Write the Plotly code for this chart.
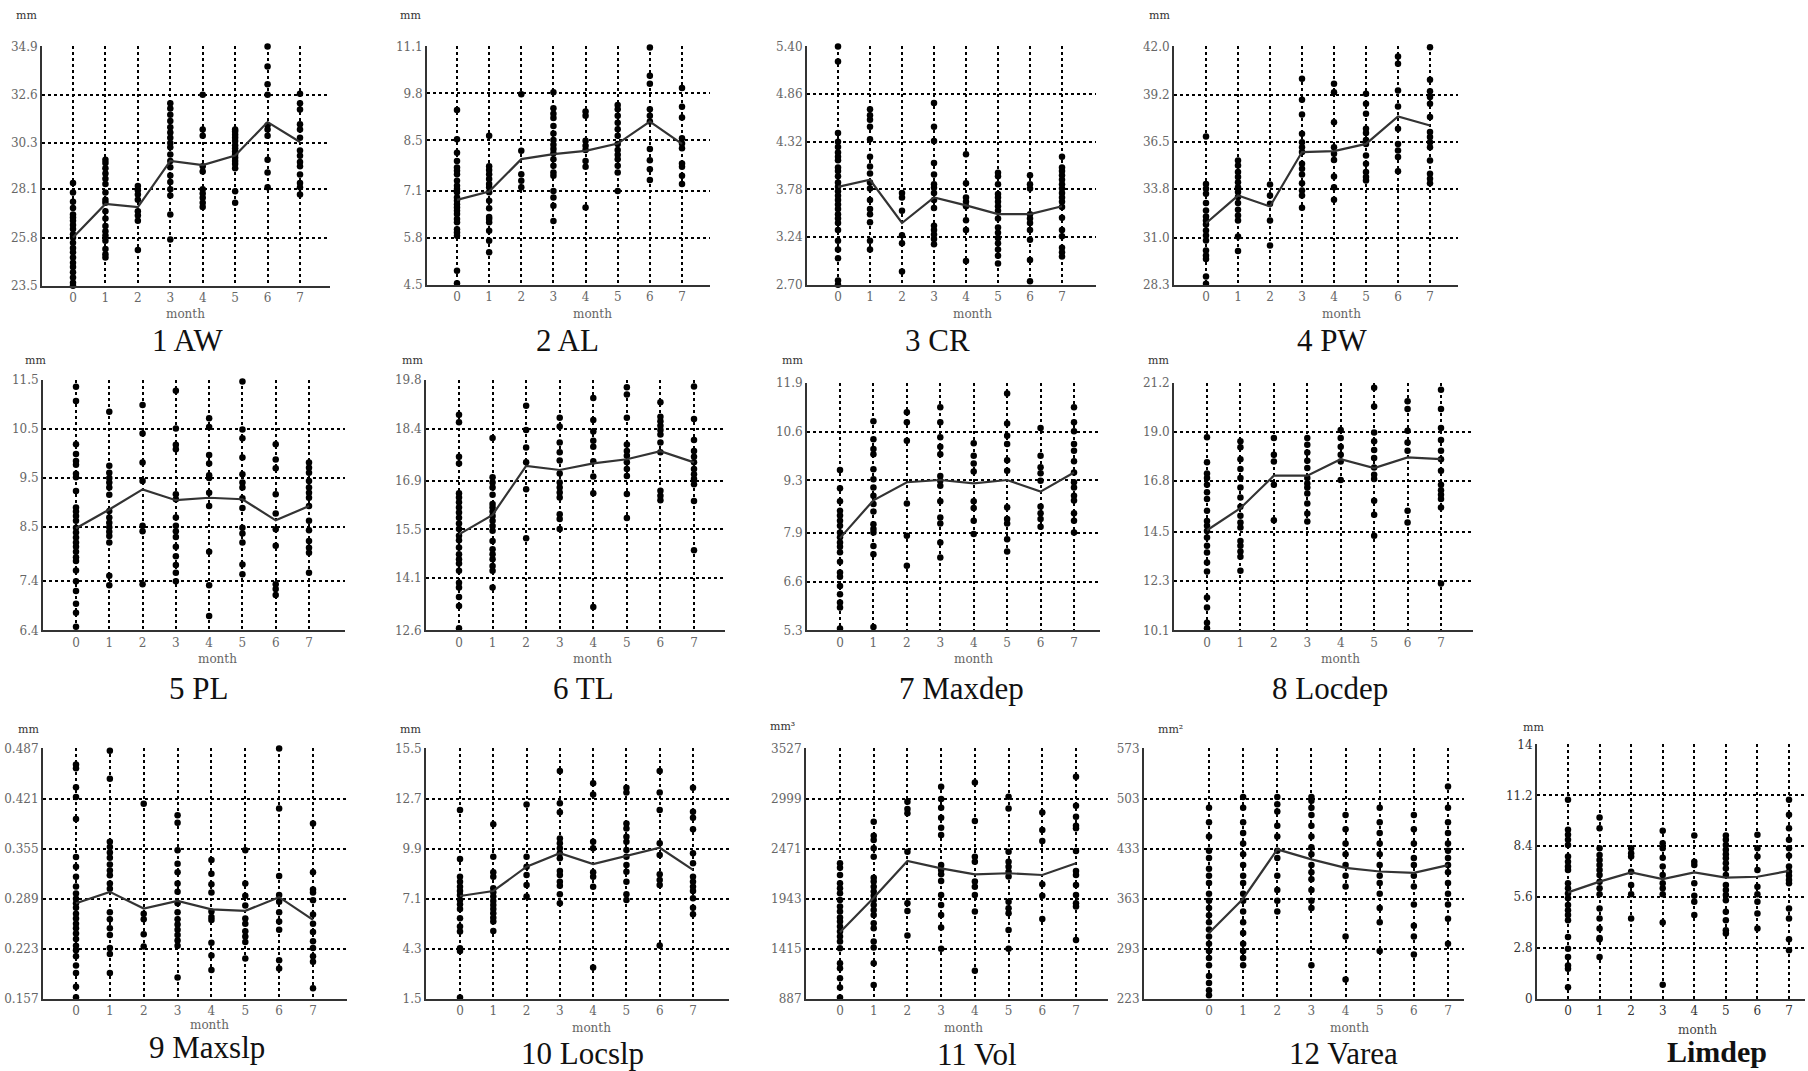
import plotly.graph_objects as go

W, H = 1808, 1071
months = [0, 1, 2, 3, 4, 5, 6, 7]

# ---------------- data ----------------
AW_pts = [
    [28.4, 27.95, 27.5, 27.2, 26.9, 26.75, 26.6, 26.4, 26.2, 25.95, 25.8, 25.55, 25.3, 25.1, 24.85, 24.6, 24.4, 24.15, 23.9, 23.65, 23.5],
    [29.5, 29.35, 29.1, 28.85, 28.6, 28.35, 27.95, 27.6, 27.45, 27.05, 26.7, 26.35, 26.1, 25.9, 25.65, 25.25, 25.0, 24.85],
    [28.25, 28.05, 27.85, 27.6, 27.05, 26.85, 26.6, 25.2],
    [32.2, 31.95, 31.65, 31.35, 31.05, 30.8, 30.55, 30.3, 30.1, 29.75, 29.45, 29.15, 28.75, 28.45, 28.1, 27.8, 26.9, 25.7],
    [32.6, 30.95, 30.65, 29.2, 28.95, 28.1, 27.9, 27.7, 27.45, 27.25],
    [30.95, 30.85, 30.7, 30.55, 30.4, 30.2, 30.05, 29.9, 29.75, 29.6, 29.45, 29.3, 29.1, 28.0, 27.45],
    [34.9, 33.95, 33.1, 32.6, 31.15, 30.95, 30.65, 29.5, 28.9, 28.2],
    [32.65, 32.2, 31.9, 31.2, 30.95, 30.55, 29.95, 29.7, 29.4, 29.2, 28.8, 28.4, 28.2, 27.85],
]
AW_mean = [25.8, 27.4, 27.25, 29.45, 29.25, 29.7, 31.3, 30.35]
AW_ticks = ["23.5", "25.8", "28.1", "30.3", "32.6", "34.9"]

AL_pts = [
    [9.34, 8.53, 8.16, 7.93, 7.75, 7.66, 7.56, 7.38, 7.24, 7.15, 7.06, 6.92, 6.83, 6.73, 6.64, 6.55, 6.46, 6.32, 6.23, 6.04, 5.95, 5.86, 4.89, 4.54],
    [8.63, 7.78, 7.68, 7.56, 7.43, 7.29, 7.2, 7.06, 6.83, 6.62, 6.38, 6.32, 6.23, 6.0, 5.72, 5.4],
    [9.78, 8.21, 7.56, 7.38, 7.2],
    [9.83, 9.39, 9.24, 9.12, 8.9, 8.69, 8.51, 8.38, 8.26, 8.14, 7.98, 7.8, 7.61, 7.52, 7.1, 6.92, 6.69, 6.27],
    [9.3, 9.18, 8.49, 8.35, 8.23, 7.93, 7.77, 6.64],
    [9.48, 9.36, 9.18, 8.99, 8.81, 8.63, 8.4, 8.23, 8.1, 7.98, 7.8, 7.61, 7.1],
    [11.07, 10.29, 10.07, 9.36, 9.18, 9.02, 8.26, 7.95, 7.7, 7.4],
    [9.95, 9.43, 9.13, 8.56, 8.41, 8.28, 7.86, 7.77, 7.52, 7.29],
]
AL_mean = [6.85, 7.08, 7.98, 8.12, 8.21, 8.41, 9.02, 8.4]
AL_ticks = ["4.5", "5.8", "7.1", "8.5", "9.8", "11.1"]

CR_pts = [
    [5.40, 5.23, 4.42, 4.32, 4.26, 4.2, 4.15, 4.11, 4.03, 3.99, 3.93, 3.86, 3.81, 3.76, 3.71, 3.66, 3.61, 3.56, 3.5, 3.45, 3.4, 3.32, 3.2, 3.1, 3.0, 2.75, 2.7],
    [4.69, 4.62, 4.57, 4.49, 4.35, 4.15, 4.04, 3.96, 3.86, 3.79, 3.66, 3.56, 3.5, 3.41, 3.2, 3.1],
    [3.74, 3.69, 3.54, 3.26, 3.17, 2.85],
    [4.76, 4.49, 4.33, 4.08, 3.95, 3.84, 3.80, 3.74, 3.66, 3.57, 3.37, 3.32, 3.27, 3.22, 3.16],
    [4.18, 3.85, 3.69, 3.64, 3.59, 3.43, 3.32, 2.97],
    [3.97, 3.93, 3.84, 3.73, 3.69, 3.64, 3.59, 3.54, 3.45, 3.35, 3.29, 3.23, 3.17, 3.1, 3.03, 2.94],
    [3.94, 3.84, 3.79, 3.5, 3.45, 3.4, 3.32, 3.21, 2.98, 2.74],
    [4.15, 4.03, 3.99, 3.94, 3.89, 3.84, 3.79, 3.74, 3.69, 3.64, 3.58, 3.46, 3.32, 3.25, 3.12, 3.07, 3.02],
]
CR_mean = [3.81, 3.89, 3.4, 3.69, 3.6, 3.5, 3.5, 3.59]
CR_ticks = ["2.70", "3.24", "3.78", "4.32", "4.86", "5.40"]

PW_pts = [
    [36.83, 34.1, 33.82, 33.53, 33.0, 32.57, 32.23, 32.0, 31.77, 31.42, 31.14, 30.85, 30.27, 29.99, 29.79, 28.78, 28.36],
    [35.45, 35.16, 34.78, 34.49, 34.2, 33.91, 33.63, 33.34, 33.0, 32.61, 32.28, 31.99, 31.08, 30.24],
    [34.07, 33.43, 32.96, 31.99, 30.56],
    [40.14, 38.93, 38.09, 36.98, 36.5, 36.21, 35.93, 35.26, 34.97, 34.64, 34.14, 33.72, 33.43, 32.73],
    [39.85, 39.37, 37.65, 36.21, 35.83, 35.48, 34.53, 33.91, 33.19],
    [39.28, 38.7, 38.13, 37.27, 37.02, 36.63, 36.4, 35.73, 35.26, 34.78, 34.49, 34.3],
    [41.42, 41.0, 39.47, 38.55, 37.27, 36.4, 36.02, 35.64, 34.83],
    [41.96, 40.08, 39.43, 39.09, 38.7, 37.94, 37.08, 36.79, 36.5, 36.21, 35.45, 34.68, 34.39, 34.14],
]
PW_mean = [31.84, 33.43, 32.8, 35.93, 35.98, 36.4, 37.98, 37.46]
PW_ticks = ["28.3", "31.0", "33.8", "36.5", "39.2", "42.0"]

PL_pts = [
    [11.36, 11.07, 10.19, 9.99, 9.85, 9.77, 9.59, 9.52, 9.24, 8.9, 8.82, 8.73, 8.63, 8.49, 8.39, 8.29, 8.19, 8.1, 8.0, 7.89, 7.81, 7.62, 7.4, 7.2, 6.94, 6.76, 6.47],
    [10.85, 9.75, 9.61, 9.5, 9.41, 9.31, 9.16, 8.83, 8.7, 8.59, 8.5, 8.41, 8.32, 8.19, 7.51, 7.32],
    [10.99, 10.41, 9.82, 9.44, 8.53, 8.42, 7.34],
    [11.28, 10.51, 10.18, 10.09, 9.17, 9.07, 8.7, 8.53, 8.42, 8.3, 8.1, 7.91, 7.73, 7.57, 7.4],
    [10.72, 10.54, 9.97, 9.8, 9.56, 9.5, 9.2, 8.93, 8.0, 7.32, 6.69],
    [11.47, 10.49, 10.31, 9.92, 9.58, 9.41, 9.31, 9.09, 8.89, 8.49, 8.37, 8.19, 7.74, 7.54],
    [10.19, 9.88, 9.7, 9.17, 8.78, 8.46, 8.12, 7.34, 7.24, 7.12],
    [9.82, 9.71, 9.61, 9.44, 9.31, 9.2, 9.1, 8.93, 8.63, 8.44, 8.22, 8.08, 7.98, 7.57],
]
PL_mean = [8.48, 8.86, 9.27, 9.05, 9.1, 9.07, 8.64, 8.93]
PL_ticks = ["6.4", "7.4", "8.5", "9.5", "10.5", "11.5"]

TL_pts = [
    [18.8, 18.58, 17.59, 17.4, 16.54, 16.42, 16.28, 16.13, 15.99, 15.84, 15.67, 15.51, 15.32, 15.19, 14.98, 14.79, 14.64, 14.52, 14.31, 13.97, 13.83, 13.56, 13.3, 12.66],
    [18.13, 17.0, 16.85, 16.71, 16.5, 16.23, 16.13, 16.02, 15.89, 15.75, 15.6, 15.46, 15.17, 14.93, 14.79, 14.64, 14.45, 14.31, 13.83],
    [19.06, 18.36, 17.86, 17.43, 16.66, 15.25],
    [19.88, 18.71, 18.46, 18.0, 17.72, 17.48, 17.11, 16.85, 16.71, 16.56, 16.42, 15.94, 15.8, 15.51],
    [19.28, 18.65, 18.32, 18.05, 17.88, 17.46, 17.02, 16.54, 13.27],
    [19.59, 19.38, 18.71, 17.94, 17.76, 17.62, 17.43, 17.24, 17.04, 16.52, 15.83],
    [19.16, 18.74, 18.61, 18.48, 18.36, 18.23, 18.0, 17.72, 16.61, 16.47, 16.34],
    [19.61, 18.68, 18.07, 17.76, 17.59, 17.43, 17.24, 17.09, 16.95, 16.8, 16.32, 14.9],
]
TL_mean = [15.36, 15.92, 17.33, 17.21, 17.4, 17.52, 17.75, 17.43]
TL_ticks = ["12.6", "14.1", "15.5", "16.9", "18.4", "19.8"]

MAXDEP_pts = [
    [9.58, 9.09, 8.74, 8.49, 8.36, 8.22, 8.09, 7.91, 7.78, 7.64, 7.53, 7.38, 7.13, 6.84, 6.73, 6.48, 6.26, 6.04, 5.91, 5.35],
    [10.88, 10.4, 10.14, 10.0, 9.6, 9.33, 9.11, 8.89, 8.67, 8.47, 8.13, 8.0, 7.91, 7.55, 7.33, 5.39],
    [11.12, 10.85, 10.36, 8.68, 7.82, 7.02],
    [11.25, 10.85, 10.45, 10.2, 10.0, 9.42, 9.29, 9.16, 8.74, 8.31, 8.15, 7.64, 7.24],
    [10.29, 9.96, 9.75, 9.54, 8.74, 8.56, 8.22, 7.87],
    [11.62, 10.82, 10.49, 10.27, 9.84, 9.56, 8.58, 8.27, 8.15, 7.73, 7.4],
    [10.7, 9.96, 9.65, 9.49, 9.29, 8.6, 8.42, 8.27, 8.06],
    [11.92, 11.25, 10.85, 10.61, 10.27, 10.09, 9.81, 9.51, 9.25, 9.11, 8.89, 8.76, 8.42, 8.22, 7.91],
]
MAXDEP_mean = [7.76, 8.77, 9.25, 9.31, 9.22, 9.31, 9.0, 9.51]
MAXDEP_ticks = ["5.3", "6.6", "7.9", "9.3", "10.6", "11.9"]

LOCDEP_pts = [
    [18.76, 17.64, 17.14, 16.93, 16.63, 16.29, 15.99, 15.46, 15.01, 14.79, 14.56, 14.26, 13.89, 13.59, 13.14, 12.74, 11.57, 11.12, 10.44, 10.19],
    [18.58, 18.31, 17.78, 17.34, 16.93, 16.51, 16.06, 15.64, 15.24, 14.94, 14.71, 14.11, 13.89, 13.64, 13.4, 12.77],
    [18.73, 17.98, 17.68, 16.63, 15.04],
    [18.73, 18.43, 18.08, 17.71, 17.38, 16.93, 16.69, 16.51, 16.24, 15.79, 15.34, 14.98],
    [19.09, 18.73, 18.34, 17.98, 17.68, 16.84],
    [20.98, 20.14, 18.98, 18.58, 18.19, 17.83, 17.41, 17.08, 16.89, 15.91, 15.28, 14.34],
    [20.38, 20.03, 19.06, 18.53, 18.16, 15.46, 14.94],
    [21.34, 20.89, 20.03, 19.18, 18.64, 18.16, 17.78, 17.26, 16.63, 16.39, 16.18, 15.99, 15.61, 12.2],
]
LOCDEP_mean = [14.59, 15.58, 17.04, 17.04, 17.78, 17.38, 17.86, 17.78]
LOCDEP_ticks = ["10.1", "12.3", "14.5", "16.8", "19.0", "21.2"]

MAXSLP_pts = [
    [0.493, 0.466, 0.461, 0.436, 0.423, 0.394, 0.344, 0.331, 0.318, 0.305, 0.296, 0.289, 0.283, 0.277, 0.269, 0.263, 0.256, 0.25, 0.243, 0.236, 0.227, 0.221, 0.213, 0.201, 0.191, 0.173, 0.159],
    [0.484, 0.447, 0.364, 0.357, 0.35, 0.343, 0.334, 0.326, 0.32, 0.309, 0.302, 0.271, 0.262, 0.25, 0.241, 0.224, 0.216, 0.191],
    [0.414, 0.269, 0.262, 0.242, 0.226],
    [0.399, 0.389, 0.353, 0.335, 0.324, 0.309, 0.298, 0.283, 0.271, 0.262, 0.255, 0.248, 0.241, 0.234, 0.227, 0.185],
    [0.34, 0.322, 0.308, 0.297, 0.272, 0.265, 0.261, 0.231, 0.214, 0.195],
    [0.353, 0.309, 0.293, 0.28, 0.263, 0.256, 0.246, 0.239, 0.232, 0.21],
    [0.487, 0.408, 0.319, 0.294, 0.285, 0.271, 0.259, 0.248, 0.208, 0.197],
    [0.388, 0.324, 0.301, 0.297, 0.287, 0.268, 0.256, 0.245, 0.233, 0.224, 0.213, 0.206, 0.171],
]
MAXSLP_mean = [0.283, 0.298, 0.276, 0.286, 0.275, 0.273, 0.291, 0.261]
MAXSLP_ticks = ["0.157", "0.223", "0.289", "0.355", "0.421", "0.487"]

LOCSLP_pts = [
    [15.65, 12.06, 9.32, 8.33, 8.05, 7.77, 7.53, 7.31, 7.03, 6.79, 6.53, 6.01, 5.54, 5.26, 4.33, 4.18, 1.57],
    [11.26, 9.45, 8.58, 8.33, 7.68, 7.46, 7.22, 6.97, 6.75, 6.53, 6.29, 6.04, 5.82, 5.3],
    [12.37, 9.45, 8.89, 8.43, 7.87, 7.22],
    [14.24, 12.43, 11.93, 10.47, 10.2, 9.92, 9.64, 9.36, 8.65, 8.43, 8.05, 7.83, 7.35, 6.84],
    [13.55, 12.93, 10.29, 9.92, 8.58, 8.33, 7.77, 3.25],
    [13.3, 13.04, 11.31, 11.03, 10.57, 10.29, 9.82, 9.45, 8.99, 8.61, 8.05, 7.35, 7.03],
    [14.24, 13.04, 12.06, 10.2, 9.54, 8.46, 8.15, 7.87, 4.48],
    [13.3, 11.96, 11.63, 10.98, 9.64, 9.08, 8.33, 8.05, 7.77, 7.53, 7.12, 6.6, 6.23],
]
LOCSLP_mean = [7.25, 7.53, 8.89, 9.64, 9.04, 9.51, 9.95, 8.71]
LOCSLP_ticks = ["1.5", "4.3", "7.1", "9.9", "12.7", "15.5"]

VOL_pts = [
    [2316, 2270, 2193, 2105, 2053, 2000, 1930, 1860, 1807, 1744, 1702, 1649, 1596, 1544, 1491, 1421, 1263, 1210, 1105, 1006, 901],
    [2755, 2607, 2562, 2474, 2386, 2165, 2123, 2070, 2018, 1975, 1930, 1877, 1824, 1772, 1684, 1631, 1491, 1428, 1263, 1034],
    [2966, 2888, 2843, 2439, 1895, 1814, 1554],
    [3124, 2994, 2902, 2797, 2692, 2614, 2298, 2246, 2200, 2130, 1982, 1877, 1772, 1638, 1414],
    [3169, 2762, 2386, 2333, 2123, 2070, 1982, 1807, 1182],
    [3018, 2895, 2439, 2333, 2281, 2228, 2176, 1912, 1842, 1789, 1614, 1414],
    [2853, 2667, 2551, 2095, 1975, 1730],
    [3229, 2923, 2808, 2713, 2685, 2446, 2235, 2193, 2088, 1982, 1895, 1860, 1508],
]
VOL_mean = [1589, 1954, 2341, 2263, 2200, 2211, 2193, 2316]
VOL_ticks = ["887", "1415", "1943", "2471", "2999", "3527"]

VAREA_pts = [
    [490, 470, 450, 430, 420, 405, 395, 385, 370, 360, 350, 340, 330, 320, 310, 300, 290, 280, 270, 255, 245, 235, 228],
    [505, 490, 470, 455, 440, 425, 410, 395, 385, 370, 360, 345, 330, 315, 300, 290, 280, 270],
    [505, 495, 485, 465, 450, 430, 420, 395, 375, 360, 345],
    [505, 500, 490, 480, 465, 450, 435, 425, 410, 400, 390, 375, 360, 350, 270],
    [580, 480, 460, 440, 425, 410, 395, 380, 310, 250],
    [490, 470, 455, 440, 425, 410, 395, 385, 370, 350, 330, 290],
    [480, 460, 440, 420, 410, 395, 380, 355, 325, 310, 285],
    [520, 490, 470, 455, 440, 430, 420, 410, 400, 385, 370, 355, 335, 300],
]
VAREA_mean = [315, 363, 432, 418, 406, 401, 399, 410]
VAREA_ticks = ["223", "293", "363", "433", "503", "573"]

LIMDEP_pts = [
    [14.28, 10.96, 9.3, 9.03, 8.75, 8.47, 7.83, 7.55, 7.28, 7.09, 6.36, 6.08, 5.8, 5.53, 5.16, 4.88, 4.61, 4.33, 3.41, 2.76, 2.3, 1.84, 1.66, 0.64],
    [9.98, 9.39, 8.29, 7.92, 7.64, 7.37, 7.09, 6.82, 6.45, 6.08, 5.75, 4.97, 4.42, 3.87, 3.35, 3.28, 2.3],
    [8.29, 8.01, 7.83, 7.0, 6.26, 5.75, 4.42],
    [9.25, 8.57, 8.29, 7.77, 7.28, 6.82, 6.36, 6.08, 5.75, 4.2, 0.77],
    [8.99, 7.55, 7.37, 6.36, 5.67, 5.34, 4.61],
    [8.99, 8.75, 8.47, 8.2, 7.96, 7.74, 7.46, 7.18, 6.82, 6.26, 5.99, 5.71, 5.43, 4.79, 4.33, 3.78, 3.59],
    [9.03, 8.29, 7.83, 7.09, 6.17, 5.75, 5.34, 4.7, 3.87],
    [10.96, 10.13, 9.39, 8.75, 8.29, 7.88, 7.28, 7.0, 6.78, 6.54, 6.36, 4.97, 4.42, 3.28, 2.67],
]
LIMDEP_mean = [5.86, 6.45, 6.96, 6.59, 6.96, 6.67, 6.72, 7.04]
LIMDEP_ticks = ["0", "2.8", "5.6", "8.4", "11.2", "14"]

titles = ["1 AW", "2 AL", "3 CR", "4 PW", "5 PL", "6 TL", "7 Maxdep", "8 Locdep",
          "9 Maxslp", "10 Locslp", "11 Vol", "12 Varea", "Limdep"]
units = ["mm", "mm", "", "mm", "mm", "mm", "mm", "mm", "mm", "mm", "mm³", "mm²", "mm"]
all_pts = [AW_pts, AL_pts, CR_pts, PW_pts, PL_pts, TL_pts, MAXDEP_pts, LOCDEP_pts,
           MAXSLP_pts, LOCSLP_pts, VOL_pts, VAREA_pts, LIMDEP_pts]
all_means = [AW_mean, AL_mean, CR_mean, PW_mean, PL_mean, TL_mean, MAXDEP_mean, LOCDEP_mean,
             MAXSLP_mean, LOCSLP_mean, VOL_mean, VAREA_mean, LIMDEP_mean]
all_ticks = [AW_ticks, AL_ticks, CR_ticks, PW_ticks, PL_ticks, TL_ticks, MAXDEP_ticks, LOCDEP_ticks,
             MAXSLP_ticks, LOCSLP_ticks, VOL_ticks, VAREA_ticks, LIMDEP_ticks]

# ---------------- layout geometry (pixels, as seen on the target) ----------------
# (axis_left, right, top, bottom, tick0_px, tick7_px)
boxes = [
    (42, 330, 46, 285, 73, 300),
    (427, 710, 46, 284, 457, 682),
    (807, 1096, 46, 284, 838, 1062),
    (1174, 1458, 46, 284, 1206, 1430),
    (43, 345, 379, 629, 76, 309),
    (426, 725, 379, 629, 459, 694),
    (807, 1100, 382, 629, 840, 1074),
    (1174, 1473, 382, 629, 1207, 1441),
    (43, 347, 747, 997, 76, 313),
    (426, 729, 747, 997, 460, 693),
    (806, 1108, 747, 997, 840, 1076),
    (1144, 1464, 747, 997, 1209, 1448),
    (1537, 1805, 743, 997, 1568, 1789),
]
unit_pos = [(26, 15), (410, 15), (0, 0), (1159, 15), (35, 360), (412, 360), (792, 360), (1158, 360),
            (28, 728), (410, 728), (782, 725), (1170, 728), (1533, 726)]
title_pos = [(187, 340), (567, 340), (937, 340), (1332, 340), (198, 687), (583, 687), (962, 687), (1330, 687),
             (207, 1046), (582, 1052), (977, 1053), (1343, 1052), (1717, 1050)]
month_pos = [(185, 313), (592, 313), (972, 313), (1341, 313), (217, 658), (592, 658), (973, 658), (1340, 658),
             (209, 1023), (591, 1026), (963, 1026), (1349, 1026), (1697, 1028)]

# the photographed page is slightly squeezed vertically; compensate
V_OFF, V_SCALE = 6.6, 0.9855


def vy(py):
    return (py - V_OFF) / V_SCALE


fig = go.Figure()
layout = dict(
    width=W, height=H, margin=dict(l=0, r=0, t=0, b=0, pad=0),
    paper_bgcolor="white", plot_bgcolor="white", showlegend=False,
    annotations=[],
)

SERIF = "DejaVu Serif"
TITLE_FONT = "Liberation Serif"

for i in range(13):
    k = i + 1
    xs = "x" if k == 1 else f"x{k}"
    ys = "y" if k == 1 else f"y{k}"
    xa = "xaxis" if k == 1 else f"xaxis{k}"
    ya = "yaxis" if k == 1 else f"yaxis{k}"
    left, right, top, bottom, t0, t7 = boxes[i]
    sp = (t7 - t0) / 7.0
    xr = [-(t0 - left) / sp, 7 + (right - t7) / sp]
    tickvals = [float(t) for t in all_ticks[i]]
    lim = (k == 13)
    tcol = "#333" if lim else "#666"

    px, py = [], []
    for m, vals in zip(months, all_pts[i]):
        px += [m] * len(vals)
        py += vals
    fig.add_trace(go.Scatter(x=px, y=py, mode="markers", xaxis=xs, yaxis=ys,
                             marker=dict(color="#000", size=6.5), cliponaxis=False,
                             hoverinfo="skip"))
    fig.add_trace(go.Scatter(x=months, y=all_means[i], mode="lines", xaxis=xs, yaxis=ys,
                             line=dict(color="#333", width=2.2), cliponaxis=False,
                             hoverinfo="skip"))

    layout[xa] = dict(
        domain=[left / W, right / W], anchor=ys, range=xr,
        tickmode="array", tickvals=months, ticktext=[str(m) for m in months],
        showgrid=True, gridcolor="#000", gridwidth=1.6, griddash="dot",
        showline=True, linecolor="#333", linewidth=2, zeroline=False, ticks="",
        tickfont=dict(family=SERIF, size=12, color=tcol),
    )
    layout[ya] = dict(
        domain=[1 - vy(bottom) / H, 1 - vy(top) / H], anchor=xs,
        range=[tickvals[0], tickvals[-1]],
        tickmode="array", tickvals=tickvals, ticktext=all_ticks[i],
        showgrid=True, gridcolor="#000", gridwidth=1.6, griddash="dot",
        showline=True, linecolor="#333", linewidth=2, zeroline=False, ticks="",
        tickfont=dict(family=SERIF, size=12, color=tcol),
    )

    if units[i]:
        ux, uy = unit_pos[i]
        layout["annotations"].append(dict(
            x=ux / W, y=1 - vy(uy) / H, xref="paper", yref="paper", text=units[i],
            showarrow=False, xanchor="center", yanchor="middle",
            font=dict(family=SERIF, size=11, color="#333")))
    mx, my = month_pos[i]
    layout["annotations"].append(dict(
        x=mx / W, y=1 - vy(my) / H, xref="paper", yref="paper", text="month",
        showarrow=False, xanchor="center", yanchor="middle",
        font=dict(family=SERIF, size=12, color="#444" if lim else "#666")))
    tx, ty = title_pos[i]
    layout["annotations"].append(dict(
        x=tx / W, y=1 - vy(ty) / H, xref="paper", yref="paper",
        text=("<b>" + titles[i] + "</b>") if lim else titles[i],
        showarrow=False, xanchor="center", yanchor="middle",
        font=dict(family=TITLE_FONT, size=30 if lim else 31, color="#111")))

fig.update_layout(**layout)
fig.write_html(
    "out.html",
    config={"displayModeBar": False},
    post_script="document.body.style.margin='0';document.body.style.padding='0';"
                "document.documentElement.style.overflow='hidden';",
)
